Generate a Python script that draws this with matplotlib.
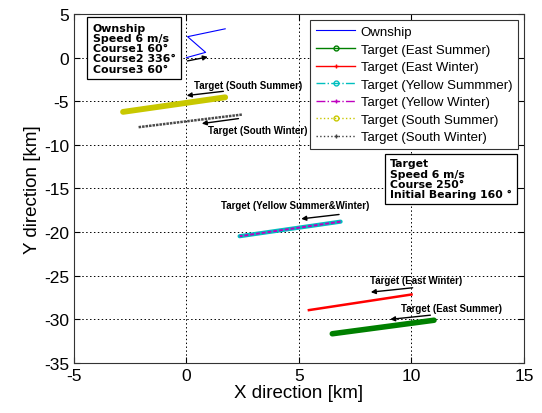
import matplotlib
matplotlib.use("Agg")
import matplotlib.pyplot as plt

plt.rcParams["font.family"] = ["Liberation Sans", "DejaVu Sans"]
plt.rcParams["axes.unicode_minus"] = False

# Ownship route (km)
own_x = [0.0, 0.85, 0.05, 1.72]
own_y = [0.0, 0.6, 2.4, 3.3]

# Target tracks (start / end, km)
east_summer_x = [11.0, 6.48]
east_summer_y = [-30.1, -31.65]
east_winter_x = [10.0, 5.44]
east_winter_y = [-27.15, -28.94]
yellow_summer_x = [6.85, 2.36]
yellow_summer_y = [-18.8, -20.47]
yellow_winter_x = [6.85, 2.36]
yellow_winter_y = [-18.8, -20.47]
south_summer_x = [1.72, -2.82]
south_summer_y = [-4.55, -6.22]
south_winter_x = [2.46, -2.15]
south_winter_y = [-6.53, -7.98]

# annotation arrows: (tail x, tail y, head x, head y)
arrows = [
    (0.04, -0.38, 0.95, 0.08),
    (1.64, -3.86, 0.01, -4.35),
    (2.31, -6.99, 0.68, -7.56),
    (6.78, -17.98, 5.1, -18.48),
    (10.05, -26.38, 8.19, -26.88),
    (10.84, -29.52, 9.05, -30.0),
]
notes = [
    ("Target (South Summer)", 0.33, -3.1),
    ("Target (South Winter)", 0.97, -8.25),
    ("Target (Yellow Summer&Winter)", 1.53, -16.85),
    ("Target (East Winter)", 8.15, -25.45),
    ("Target (East Summer)", 9.53, -28.75),
]

c_yel = "#c8c800"
c_cyan = "#00bfbf"
c_mag = "#bf00bf"
c_green = "#008000"
c_gray = "#404040"

fig = plt.figure(figsize=(5.42, 4.14), dpi=100)
ax = fig.add_axes([0.1365, 0.1208, 0.8303, 0.843])

# tracks (drawn thick to look like the dense marker trails)
ax.plot(own_x, own_y, color="blue", lw=0.8)
ax.plot(south_summer_x, south_summer_y, color=c_yel, lw=4.2, solid_capstyle="round")
ax.plot(south_winter_x, south_winter_y, color="#4a4a4a", lw=1.8, ls=(0, (1.0, 0.4)))
ax.plot(yellow_summer_x, yellow_summer_y, color=c_cyan, lw=3.0, solid_capstyle="round")
ax.plot(yellow_winter_x, yellow_winter_y, color=c_mag, lw=1.4, ls=(0, (2, 1)))
ax.plot(east_winter_x, east_winter_y, color="red", lw=1.8)
ax.plot(east_summer_x, east_summer_y, color=c_green, lw=4.0, solid_capstyle="round")

# legend proxies
ax.plot([], [], color="blue", lw=0.8, label="Ownship")
ax.plot([], [], color=c_green, lw=1, marker="o", ms=3.5, mfc="none", label="Target (East Summer)")
ax.plot([], [], color="red", lw=1, marker="+", ms=3.5, label="Target (East Winter)")
ax.plot([], [], color=c_cyan, lw=1, ls="-.", marker="o", ms=3.5, mfc="none", label="Target (Yellow Summmer)")
ax.plot([], [], color=c_mag, lw=1, ls="-.", marker="+", ms=3.5, label="Target (Yellow Winter)")
ax.plot([], [], color=c_yel, lw=1, ls=":", marker="o", ms=3.5, mfc="none", label="Target (South Summer)")
ax.plot([], [], color=c_gray, lw=1, ls=":", marker="+", ms=3.5, label="Target (South Winter)")

for tx, ty, hx, hy in arrows:
    ax.annotate("", xy=(hx, hy), xytext=(tx, ty),
                arrowprops=dict(arrowstyle="-|>", color="k", lw=1.0, mutation_scale=7,
                                shrinkA=0, shrinkB=0))
for txt, x, y in notes:
    ax.text(x, y, txt, fontsize=7, ha="left", va="center", fontweight="semibold")

ax.text(-4.16, 4.0, "Ownship\nSpeed 6 m/s\nCourse1 60\u00b0\nCourse2 336\u00b0\nCourse3 60\u00b0",
        fontsize=7.9, fontweight="bold", ha="left", va="top", linespacing=1.03,
        family="DejaVu Sans",
        bbox=dict(boxstyle="square,pad=0.5", fc="white", ec="k", lw=0.9))
ax.text(9.05, -11.55, "Target\nSpeed 6 m/s\nCourse 250\u00b0\nInitial Bearing 160 \u00b0",
        fontsize=7.8, fontweight="bold", ha="left", va="top", linespacing=1.03,
        family="DejaVu Sans",
        bbox=dict(boxstyle="square,pad=0.45", fc="white", ec="k", lw=0.9))

leg = ax.legend(loc="upper right", bbox_to_anchor=(0.987, 0.983), borderaxespad=0,
                fontsize=9.5, handlelength=3.0, numpoints=1, fancybox=False,
                framealpha=1, edgecolor="#333333", labelspacing=0.4, borderpad=0.45,
                handletextpad=0.4)
leg.get_frame().set_linewidth(0.8)

ax.set_xlim(-5, 15)
ax.set_ylim(-35, 5)
ax.set_xticks(range(-5, 16, 5))
ax.set_yticks(range(-35, 6, 5))
ax.tick_params(direction="in", top=True, right=True, length=4, labelsize=12.5)
ax.grid(True, color="k", ls=(0, (1.5, 2.5)), lw=0.7)
for s in ax.spines.values():
    s.set_color("#333333")
    s.set_linewidth(0.8)

ax.set_xlabel("X direction [km]", fontsize=13.5, labelpad=1)
ax.set_ylabel("Y direction [km]", fontsize=13.5, labelpad=2)

plt.savefig("out.png", dpi=100)
